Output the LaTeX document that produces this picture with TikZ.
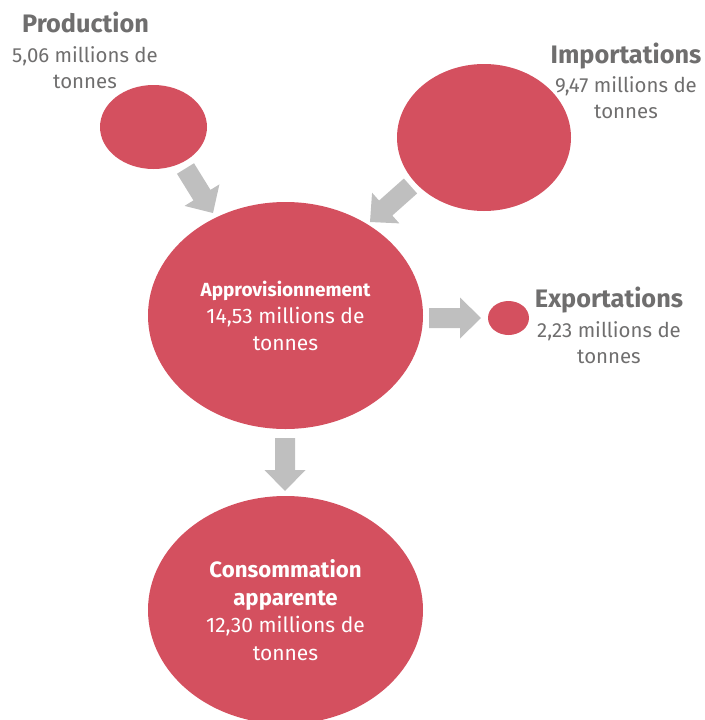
\documentclass[tikz,border=0pt]{standalone}
\usepackage{fontspec}
\setmainfont{Fira Sans}
\usetikzlibrary{shapes.geometric,calc}

\definecolor{bubblered}{HTML}{D4505F}
\definecolor{arrowgray}{HTML}{BFBFBF}
\definecolor{labelgray}{HTML}{6F6E6E}

% Broad block arrow between two named points
\newcommand\blockarrow[2]{%
  \coordinate (ba-h) at ($(#2)!21pt!(#1)$);
  \fill[arrowgray] ($(#1)!10pt!90:(#2)$) -- ($(ba-h)!10pt!90:(#2)$)
    -- ($(ba-h)!20.5pt!90:(#2)$) -- (#2) -- ($(ba-h)!20.5pt!-90:(#2)$)
    -- ($(ba-h)!10pt!-90:(#2)$) -- ($(#1)!10pt!-90:(#2)$) -- cycle;
}
\newcommand\bubblehead[1]{{\fontsize{22.2}{27.5}\selectfont\bfseries #1}}

\tikzset{
  bubble/.style={ellipse, fill=bubblered, draw=none, inner sep=0pt,
    text=white, align=center},
  sidelabel/.style={text=labelgray, align=center, inner sep=0pt,
    font=\fontsize{20.4}{26}\selectfont},
  sidehead/.style={text=labelgray, inner sep=0pt,
    font=\fontsize{25.3}{26}\selectfont\bfseries},
}

\begin{document}
\begin{tikzpicture}[x=1pt,y=-1pt]
\useasboundingbox (0,0) rectangle (704,720);

% bubbles
\node[bubble, minimum width=107pt, minimum height=84pt] (prod) at (153.5,127) {};
\node[bubble, minimum width=174pt, minimum height=147pt] (imp) at (484,137.5) {};
\node[bubble, minimum width=41pt, minimum height=34pt] (exp) at (508.5,318) {};
\node[bubble, minimum width=275pt, minimum height=227pt,
      font=\fontsize{21}{27}\selectfont] (appro) at (285.5,315.5)
  {{\fontsize{19}{27}\selectfont\bfseries Approvisionnement}\\14,53 millions de\\tonnes};
\node[bubble, minimum width=275pt, minimum height=228pt,
      font=\fontsize{21}{27.5}\selectfont] (conso) at (285.5,610)
  {\bubblehead{Consommation}\\\bubblehead{apparente}\\12,30 millions de\\tonnes};

% outside labels (anchored on the baseline of their last line)
\node[sidehead, anchor=base] (prodhead) at (85.5,32) {Production};
\node[sidelabel, anchor=base] (prodtxt) at (85,88) {5,06 millions de\\tonnes};
\node[sidehead, anchor=base] (imphead) at (626,63) {Importations};
\node[sidelabel, anchor=base] (imptxt) at (626,118) {9,47 millions de\\tonnes};
\node[sidehead, anchor=base] (exphead) at (609,307) {Exportations};
\node[sidelabel, anchor=base] (exptxt) at (609,363) {2,23 millions de\\tonnes};

% arrow end points
\coordinate (a1s) at (185.5,168.5); \coordinate (a1e) at (213,213);
\coordinate (a2s) at (410.5,186);   \coordinate (a2e) at (370,222);
\coordinate (a3s) at (429,318);     \coordinate (a3e) at (481,318);
\coordinate (a4s) at (285,438);     \coordinate (a4e) at (285,491);

\blockarrow{a1s}{a1e}
\blockarrow{a2s}{a2e}
\blockarrow{a3s}{a3e}
\blockarrow{a4s}{a4e}
\end{tikzpicture}
\end{document}
